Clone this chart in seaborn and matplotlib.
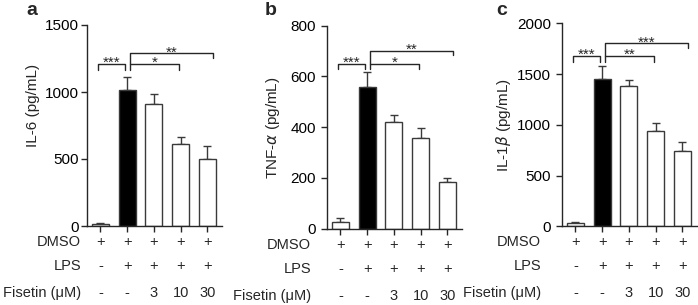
import numpy as np
import pandas as pd
import matplotlib
matplotlib.use("Agg")
import matplotlib.pyplot as plt
import matplotlib.transforms as mtrans
import seaborn as sns

# treatment groups and bar fill
groups = ["ctrl", "LPS", "F3", "F10", "F30"]
bar_colors = ["white", "black", "white", "white", "white"]

# cytokine levels (mean, upper error)
il6_mean = [17, 1012, 910, 615, 500]
il6_err = [8, 103, 77, 50, 95]
tnf_mean = [25, 558, 420, 359, 183]
tnf_err = [16, 58, 30, 38, 18]
il1b_mean = [30, 1451, 1382, 941, 743]
il1b_err = [9, 125, 59, 72, 89]

# treatment table under the bars
row_names = ["DMSO", "LPS", "Fisetin (\u03bcM)"]
dmso_row = ["+", "+", "+", "+", "+"]
lps_row = ["-", "+", "+", "+", "+"]
fisetin_row = ["-", "-", "3", "10", "30"]

# significance marks: ctrl vs LPS, LPS vs 10, LPS vs 30
sig_a = ["***", "*", "**"]
sig_b = ["***", "*", "**"]
sig_c = ["***", "**", "***"]

W, H = 698, 305
sns.set_style("ticks")
plt.rcParams["font.family"] = ["Liberation Sans", "DejaVu Sans"]
plt.rcParams["mathtext.fontset"] = "dejavusans"

dark = "#262626"

panels = [
    dict(letter="a", mean=il6_mean, err=il6_err, ylabel="IL-6 (pg/mL)",
         yticks=[0, 500, 1000, 1500], sig=sig_a,
         rect=(87, 226, 135, 201), name_dx=-6, ylab_pos=(-0.35, 0.60),
         low=1208, high=1288, tick=45, letter_x=26, pad=2),
    dict(letter="b", mean=tnf_mean, err=tnf_err, ylabel=r"TNF-$\alpha$ (pg/mL)",
         yticks=[0, 200, 400, 600, 800], sig=sig_b,
         rect=(327, 228.7, 135, 203), name_dx=-16, ylab_pos=(-0.335, 0.5),
         low=650, high=700, tick=20, letter_x=265, pad=4),
    dict(letter="c", mean=il1b_mean, err=il1b_err, ylabel=r"IL-1$\beta$ (pg/mL)",
         yticks=[0, 500, 1000, 1500, 2000], sig=sig_c,
         rect=(562, 226.3, 135, 203), name_dx=-21, ylab_pos=(-0.36, 0.5),
         low=1678, high=1803, tick=60, letter_x=496, pad=4),
]

fig = plt.figure(figsize=(W / 100, H / 100), dpi=100)

for p in panels:
    l, b, w, h = p["rect"]
    ax = fig.add_axes([l / W, (H - b) / H, w / W, h / H])
    df = pd.DataFrame({"group": groups, "value": p["mean"]})
    sns.barplot(data=df, x="group", y="value", hue="group", order=groups,
                hue_order=groups, palette=bar_colors, width=0.63,
                edgecolor="#3a3a3a", linewidth=1.0, errorbar=None,
                legend=False, ax=ax)
    ax.errorbar(range(len(groups)), p["mean"],
                yerr=[np.zeros(len(groups)), p["err"]], fmt="none",
                ecolor="#3a3a3a", elinewidth=1.0, capsize=3, capthick=1.0,
                zorder=0.5)

    ax.set_xlim(-0.5, 4.55)
    ax.set_ylim(0, p["yticks"][-1])
    ax.set_yticks(p["yticks"])
    ax.set_xticks(range(len(groups)))
    ax.tick_params(axis="x", labelbottom=False, length=4, width=1, color=dark)
    ax.tick_params(axis="y", labelsize=11, length=4, width=1, color=dark,
                   pad=p["pad"], labelcolor="black")
    for side in ["left", "bottom"]:
        ax.spines[side].set_color(dark)
        ax.spines[side].set_linewidth(1.0)
    sns.despine(ax=ax)
    ax.set_xlabel("")
    ax.set_ylabel(p["ylabel"], fontsize=11)
    ax.yaxis.set_label_coords(*p["ylab_pos"])

    # significance brackets
    lo, hi, t = p["low"], p["high"], p["tick"]
    kw = dict(color=dark, lw=1.0, clip_on=False)
    ax.plot([-0.07, -0.07, 0.91, 0.91], [lo - t, lo, lo, lo - t], **kw)
    ax.plot([1.1, 1.1, 2.96, 2.96], [lo - t, lo, lo, lo - t], **kw)
    ax.plot([1.1, 1.1, 4.2, 4.2], [lo, hi, hi, hi - t * 0.8], **kw)
    star_pos = [((-0.07 + 0.91) / 2, lo), ((1.1 + 2.96) / 2, lo),
                ((1.1 + 4.2) / 2, hi)]
    for (sx, sy), s in zip(star_pos, p["sig"]):
        ax.annotate(s, xy=(sx, sy), xytext=(0, -2.2), textcoords="offset points",
                    ha="center", va="baseline", fontsize=11, color=dark)

    # treatment table
    offsets = [16, 40, 67]
    for name, row, dy in zip(row_names, [dmso_row, lps_row, fisetin_row], offsets):
        tr = mtrans.offset_copy(ax.transAxes, fig=fig, x=p["name_dx"], y=-dy,
                                units="dots")
        ax.text(0, 0, name, transform=tr, ha="right", va="center",
                fontsize=10.5)
        trd = mtrans.offset_copy(ax.transData, fig=fig, y=-dy, units="dots")
        for i, s in enumerate(row):
            ax.text(i, 0, s, transform=trd, ha="center", va="center",
                    fontsize=10.5)

    fig.text(p["letter_x"] / W, 1 - 2 / H, p["letter"], ha="left", va="top",
             fontsize=14, fontweight="bold")

fig.savefig("out.png", dpi=100)
